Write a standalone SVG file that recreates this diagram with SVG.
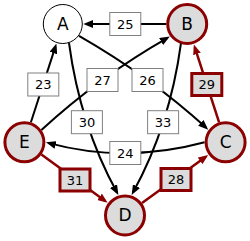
<svg xmlns="http://www.w3.org/2000/svg" width="250" height="241" viewBox="0 0 250 241">
<defs>
<marker id="ak" markerUnits="userSpaceOnUse" markerWidth="10" markerHeight="8" refX="7" refY="4" orient="auto"><path d="M0,0 L10,4 L0,8 z" fill="#000"/></marker>
<marker id="ar" markerUnits="userSpaceOnUse" markerWidth="10" markerHeight="8" refX="7" refY="4" orient="auto"><path d="M0,0 L10,4 L0,8 z" fill="#8b0000"/></marker>
<style>
.e{fill:none;stroke:#000;stroke-width:2;marker-end:url(#ak)}
.er{fill:none;stroke:#8b0000;stroke-width:2.5;marker-end:url(#ar)}
.lb{fill:#fff;stroke:#808080;stroke-width:1}
.lr{fill:#dcdcdc;stroke:#8b0000;stroke-width:3}
.lt{font-family:"DejaVu Sans",sans-serif;font-size:13px;text-anchor:middle;fill:#000}
.n{fill:#dcdcdc;stroke:#8b0000;stroke-width:3}
.na{fill:#fff;stroke:#000;stroke-width:1}
.nt{font-family:"DejaVu Sans",sans-serif;font-size:17px;text-anchor:middle;fill:#000}
</style>
</defs>
<rect width="250" height="241" fill="#fff"/>
<g id="connectors">
<path class="e" d="M166.2,24 L86.3,24"/>
<path class="e" d="M30.9,122.3 L55.5,46.4"/>
<path class="er" d="M219.1,122.3 L194.8,47.3"/>
<path class="er" d="M41.4,154.6 L105.2,201"/>
<path class="er" d="M142,203.1 L205.8,156.7"/>
<path class="e" d="M41.4,130 Q99.4,76.7 167.2,38.1"/>
<path class="e" d="M79,35.8 Q150.6,76.9 206,127.6"/>
<path class="e" d="M204.6,142.3 Q125.35,163.7 48.8,143.1"/>
<path class="e" d="M69,43 Q80.1,125.4 116.9,192.3"/>
<path class="e" d="M181,43 Q169.9,125.4 133.1,192.3"/>
<g id="edge-labels">
<rect class="lb" x="109.8" y="12.5" width="31" height="23"/><text class="lt" x="125.3" y="28.7">25</text>
<rect class="lb" x="27.8" y="73" width="31" height="23"/><text class="lt" x="43.3" y="89.2">23</text>
<rect class="lr" x="191.8" y="73.5" width="30" height="22"/><text class="lt" x="206.8" y="89.2">29</text>
<rect class="lb" x="87" y="68.5" width="31" height="23"/><text class="lt" x="102.5" y="84.7">27</text>
<rect class="lb" x="132" y="68.5" width="31" height="23"/><text class="lt" x="147.5" y="84.7">26</text>
<rect class="lb" x="71.4" y="110.7" width="31" height="23"/><text class="lt" x="86.9" y="126.9">30</text>
<rect class="lb" x="147.6" y="110.7" width="31" height="23"/><text class="lt" x="163.1" y="126.9">33</text>
<rect class="lb" x="109.8" y="141.5" width="31" height="23"/><text class="lt" x="125.3" y="157.7">24</text>
<rect class="lr" x="60" y="169" width="30" height="22"/><text class="lt" x="75" y="184.7">31</text>
<rect class="lr" x="161" y="168.5" width="30" height="22"/><text class="lt" x="176" y="184.2">28</text>
</g>
</g>
<g id="node-A"><circle class="na" cx="62.8" cy="24" r="19.5"/><text class="nt" x="62.8" y="30">A</text></g>
<g id="node-B"><circle class="n" cx="187.2" cy="24" r="19.5"/><text class="nt" x="187.2" y="30">B</text></g>
<g id="node-C"><circle class="n" cx="225.6" cy="142.3" r="19.5"/><text class="nt" x="225.6" y="148.3">C</text></g>
<g id="node-D"><circle class="n" cx="125" cy="215.4" r="19.5"/><text class="nt" x="125" y="221.4">D</text></g>
<g id="node-E"><circle class="n" cx="24.4" cy="142.3" r="19.5"/><text class="nt" x="24.4" y="148.3">E</text></g>
</svg>
